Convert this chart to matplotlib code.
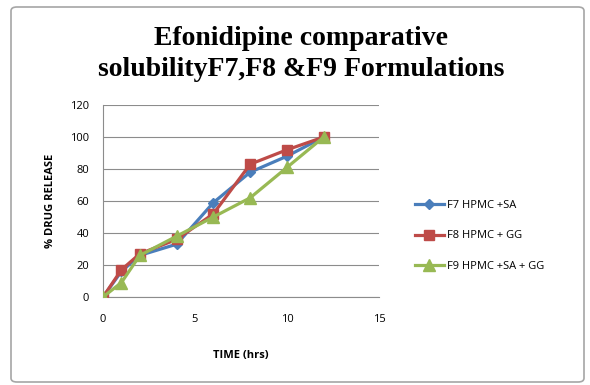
import matplotlib.pyplot as plt
from matplotlib.patches import FancyBboxPatch

time_hrs = [0, 1, 2, 4, 6, 8, 10, 12]
f7 = [0, 16, 26, 33, 59, 78, 88, 100]
f8 = [0, 17, 27, 36, 52, 83, 92, 100]
f9 = [0, 9, 26, 38, 50, 62, 81, 100]
labels = ['F7 HPMC +SA', 'F8 HPMC + GG', 'F9 HPMC +SA + GG']


def plot():
    fig = plt.figure(figsize=(5.9, 3.85), dpi=100)
    ax = fig.add_axes([103 / 590, 1 - 297 / 385, 276 / 590, 192 / 385])

    # outer chart border
    fig.patches.append(FancyBboxPatch((11 / 590, 3 / 385), 573 / 590, 375 / 385,
                                      boxstyle='round,pad=0,rounding_size=0.01',
                                      transform=fig.transFigure, fill=False,
                                      edgecolor='#a6a6a6', linewidth=1.2))

    ax.plot(time_hrs, f7, color='#4A7EBB', lw=2.3, marker='D', ms=5.5, label=labels[0], zorder=3)
    ax.plot(time_hrs, f8, color='#BE4B48', lw=2.3, marker='s', ms=7.5, label=labels[1], zorder=3)
    ax.plot(time_hrs, f9, color='#98B954', lw=2.3, marker='^', ms=8, label=labels[2], zorder=3)

    ax.set_xlim(0, 15)
    ax.set_ylim(0, 120)
    ax.set_xticks([0, 5, 10, 15])
    ax.set_yticks(range(0, 121, 20))
    ax.grid(axis='y', color='#8c8c8c', lw=0.8)
    ax.set_axisbelow(True)
    for s in ['top', 'right']:
        ax.spines[s].set_visible(False)
    ax.spines['left'].set_color('#8c8c8c')
    ax.spines['bottom'].set_color('#8c8c8c')
    ax.tick_params(length=0, labelsize=8)
    for t in ax.get_xticklabels() + ax.get_yticklabels():
        t.set_family('Open Sans')
    ax.tick_params(axis='x', pad=12)
    ax.tick_params(axis='y', pad=10)

    ax.set_xlabel('TIME (hrs)', fontsize=8, fontweight='bold', family='Open Sans', labelpad=18)
    ax.set_ylabel('% DRUG RELEASE', fontsize=8, fontweight='bold', family='Open Sans', labelpad=10)

    fig.text(0.51, 1 - 54 / 385, 'Efonidipine comparative\nsolubilityF7,F8 &F9 Formulations',
             ha='center', va='center', fontsize=20, fontweight='bold',
             family='Liberation Serif', linespacing=1.3)

    fig.legend(loc='center left', bbox_to_anchor=(405 / 590, 1 - 236 / 385), frameon=False,
               prop={'family': 'Open Sans', 'size': 8}, labelspacing=1.75,
               handlelength=2.6, handletextpad=0.3)

    fig.savefig('out.png', dpi=100)


if __name__ == '__main__':
    plot()
